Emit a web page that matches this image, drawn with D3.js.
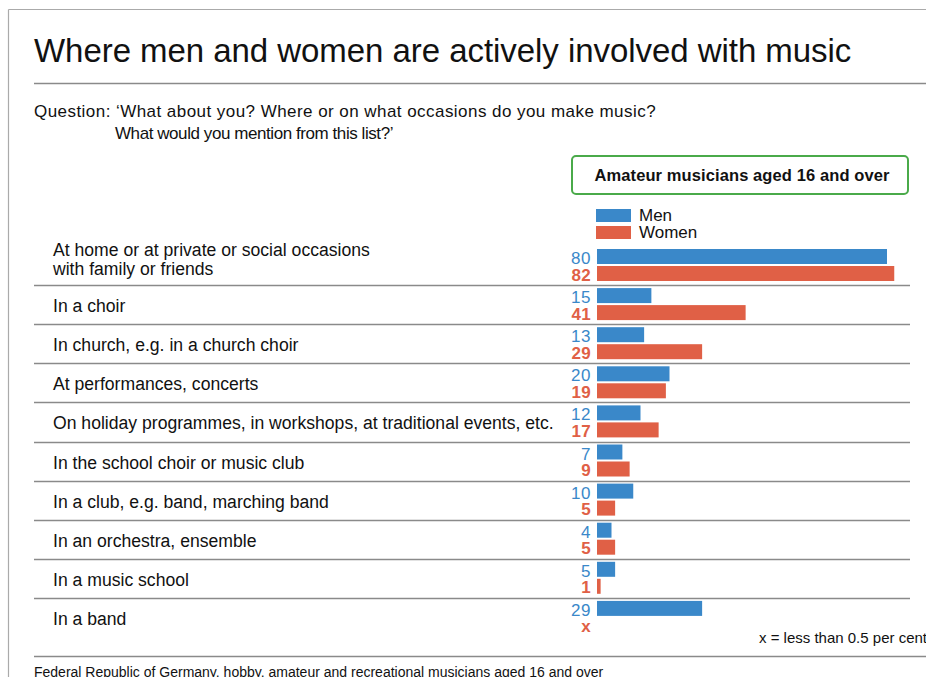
<!DOCTYPE html>
<html>
<head>
<meta charset="utf-8">
<script src="https://cdn.jsdelivr.net/npm/d3@7"></script>
<style>
  html, body { margin: 0; padding: 0; background: #fff; }
  svg { display: block; font-family: "Liberation Sans", Arial, sans-serif; }
</style>
</head>
<body>
<svg id="chart" width="926" height="677"></svg>
<script>
// Where amateur musicians play, by gender (per cent)
const categories = [
  ["At home or at private or social occasions", "with family or friends"],
  ["In a choir"],
  ["In church, e.g. in a church choir"],
  ["At performances, concerts"],
  ["On holiday programmes, in workshops, at traditional events, etc."],
  ["In the school choir or music club"],
  ["In a club, e.g. band, marching band"],
  ["In an orchestra, ensemble"],
  ["In a music school"],
  ["In a band"]
];
const men   = [80, 15, 13, 20, 12, 7, 10, 4, 5, 29];
const women = [82, 41, 29, 19, 17, 9, 5, 5, 1, null]; // null: less than 0.5 per cent
const seriesNames = ["Men", "Women"];

const BLUE = "#3a88c9";
const RED = "#e06046";
const GRID = "#8a8a8a";

const svg = d3.select("#chart");

// outer frame (top and left edges)
svg.append("line").attr("x1", 8.5).attr("x2", 926).attr("y1", 9.5).attr("y2", 9.5)
  .attr("stroke", "#aaa").attr("stroke-width", 1.2);
svg.append("line").attr("x1", 8.5).attr("x2", 8.5).attr("y1", 9.5).attr("y2", 677)
  .attr("stroke", "#aaa").attr("stroke-width", 1.2);

// title
svg.append("text").attr("x", 34).attr("y", 62)
  .attr("font-size", 33).attr("letter-spacing", -0.05).attr("fill", "#111")
  .text("Where men and women are actively involved with music");
svg.append("line").attr("x1", 34).attr("x2", 926).attr("y1", 83.5).attr("y2", 83.5)
  .attr("stroke", GRID).attr("stroke-width", 1.3);

// question
svg.append("text").attr("x", 34).attr("y", 117)
  .attr("font-size", 17).attr("letter-spacing", 0.45).attr("fill", "#111")
  .text("Question: \u2018What about you? Where or on what occasions do you make music?");
svg.append("text").attr("x", 115).attr("y", 139)
  .attr("font-size", 17).attr("letter-spacing", -0.43).attr("fill", "#111")
  .text("What would you mention from this list?\u2019");

// panel header
svg.append("rect").attr("x", 572).attr("y", 156).attr("width", 336).attr("height", 38)
  .attr("rx", 4).attr("fill", "#fff").attr("stroke", "#4aaa4a").attr("stroke-width", 2);
svg.append("text").attr("x", 742).attr("y", 181).attr("text-anchor", "middle")
  .attr("font-size", 16.5).attr("letter-spacing", 0.1).attr("font-weight", "bold").attr("fill", "#111")
  .text("Amateur musicians aged 16 and over");

// scales
const x = d3.scaleLinear().domain([0, 80]).range([597, 887]);
const y = d3.scaleBand().domain(d3.range(categories.length)).range([246, 637]).paddingInner(0);
const barH = 15;

// legend
const legend = svg.append("g");
seriesNames.forEach((name, i) => {
  legend.append("rect").attr("x", 596).attr("y", 209 + i * 17).attr("width", 35).attr("height", 13)
    .attr("fill", i === 0 ? BLUE : RED);
  legend.append("text").attr("x", 639).attr("y", 221 + i * 17)
    .attr("font-size", 17).attr("fill", "#111").text(name);
});

// row separators
svg.append("g").selectAll("line")
  .data(d3.range(categories.length - 1))
  .join("line")
  .attr("x1", 34).attr("x2", 910)
  .attr("y1", i => Math.round(y(i) + y.bandwidth()) + 0.5)
  .attr("y2", i => Math.round(y(i) + y.bandwidth()) + 0.5)
  .attr("stroke", GRID).attr("stroke-width", 1.3);

// category labels
const labels = svg.append("g");
categories.forEach((lines, i) => {
  const t = labels.append("text").attr("x", 53).attr("font-size", 17.6).attr("fill", "#111");
  if (lines.length === 1) {
    t.append("tspan").attr("x", 53).attr("y", y(i) + y.bandwidth() / 2 + 7.5).text(lines[0]);
  } else {
    lines.forEach((ln, j) => {
      t.append("tspan").attr("x", 53).attr("y", y(i) + 10 + j * 19).text(ln);
    });
  }
});

// bars
svg.append("g").selectAll("rect")
  .data(men).join("rect")
  .attr("x", x(0)).attr("y", (d, i) => y(i) + 3)
  .attr("width", d => x(d) - x(0)).attr("height", barH)
  .attr("fill", BLUE);
svg.append("g").selectAll("rect")
  .data(women.map((v, i) => ({ v, i })).filter(d => d.v !== null)).join("rect")
  .attr("x", x(0)).attr("y", d => y(d.i) + 20)
  .attr("width", d => x(d.v) - x(0)).attr("height", barH)
  .attr("fill", RED);

// value labels
svg.append("g").selectAll("text")
  .data(men).join("text")
  .attr("x", 591).attr("y", (d, i) => y(i) + 18)
  .attr("text-anchor", "end").attr("font-size", 17).attr("letter-spacing", 0.5).attr("fill", BLUE)
  .text(d => d);
svg.append("g").selectAll("text")
  .data(women).join("text")
  .attr("x", 591).attr("y", (d, i) => y(i) + 34.5)
  .attr("text-anchor", "end").attr("font-size", 17).attr("letter-spacing", 0.3).attr("font-weight", "bold").attr("fill", RED)
  .text(d => d === null ? "x" : d);

// note and footer
svg.append("text").attr("x", 927).attr("y", 643).attr("text-anchor", "end")
  .attr("font-size", 15).attr("fill", "#111").text("x = less than 0.5 per cent");
svg.append("line").attr("x1", 34).attr("x2", 926).attr("y1", 656.5).attr("y2", 656.5)
  .attr("stroke", GRID).attr("stroke-width", 1.3);
svg.append("text").attr("x", 34).attr("y", 677)
  .attr("font-size", 14).attr("fill", "#111")
  .text("Federal Republic of Germany, hobby, amateur and recreational musicians aged 16 and over");
</script>
</body>
</html>
